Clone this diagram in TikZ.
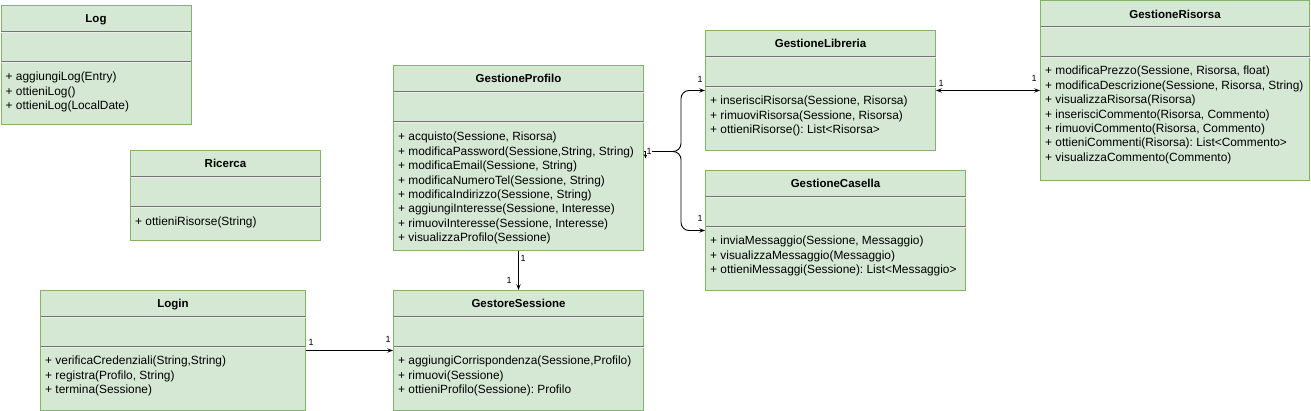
\documentclass[tikz,border=0pt]{standalone}
\usepackage{fontspec}
\setmainfont{Liberation Sans}
\usetikzlibrary{arrows.meta,positioning}
\definecolor{umlfill}{HTML}{D5E8D4}
\definecolor{umlline}{HTML}{82B366}
\frenchspacing

\begin{document}
\begin{tikzpicture}[x=1pt,y=-1pt,>={Stealth[length=6pt,width=4.5pt,inset=2.5pt]},
    box/.style={draw=umlline,fill=umlfill,line width=1pt,anchor=north west,inner sep=0pt},
    head/.style={font=\bfseries\fontsize{11.5}{13}\selectfont},
    ops/.style={font=\fontsize{11.9}{14.4}\selectfont,align=left,inner sep=0pt},
    mult/.style={font=\fontsize{9}{10}\selectfont,inner sep=0.5pt},
    assoc/.style={line width=0.9pt},
    sep/.style={draw=black!55,line width=0.9pt},
    sepgap/.style={draw=black!7,line width=1pt}]

    \useasboundingbox (0,0) rectangle (1311,411);

    % classes
    \node[box,minimum width=190pt,minimum height=119pt] (0) at (0.5,5) {};
    \node[box,minimum width=190pt,minimum height=90pt] (1) at (130,150) {};
    \node[box,minimum width=250pt,minimum height=185pt] (2) at (393,65) {};
    \node[box,minimum width=230pt,minimum height=120pt] (3) at (705,30) {};
    \node[box,minimum width=269pt,minimum height=180pt] (4) at (1040,0.5) {};
    \node[box,minimum width=260pt,minimum height=120pt] (5) at (705,170) {};
    \node[box,minimum width=265pt,minimum height=120pt] (6) at (40,290) {};
    \node[box,minimum width=250pt,minimum height=120pt] (7) at (393,290) {};

    \foreach \n in {0,...,7} {
        \draw[sep] ([xshift=0.5pt,yshift=-26pt]\n.north west) -- ([xshift=-0.5pt,yshift=-26pt]\n.north east);
        \draw[sepgap] ([xshift=0.5pt,yshift=-27.2pt]\n.north west) -- ([xshift=-0.5pt,yshift=-27.2pt]\n.north east);
        \draw[sep] ([xshift=0.5pt,yshift=-56pt]\n.north west) -- ([xshift=-0.5pt,yshift=-56pt]\n.north east);
        \draw[sepgap] ([xshift=0.5pt,yshift=-57.2pt]\n.north west) -- ([xshift=-0.5pt,yshift=-57.2pt]\n.north east);
    }

    \node[head,below=6pt of 0.north] {Log};
    \node[ops,below right=67pt and 5pt of 0.north west] {+ aggiungiLog(Entry)\\+ ottieniLog()\\+ ottieniLog(LocalDate)};

    \node[head,below=6pt of 1.north] {Ricerca};
    \node[ops,below right=67pt and 5pt of 1.north west] {+ ottieniRisorse(String)};

    \node[head,below=6pt of 2.north] {GestioneProfilo};
    \node[ops,below right=67pt and 5pt of 2.north west] {+ acquisto(Sessione, Risorsa)\\
        + modificaPassword(Sessione,String, String)\\
        + modificaEmail(Sessione, String)\\
        + modificaNumeroTel(Sessione, String)\\
        + modificaIndirizzo(Sessione, String)\\
        + aggiungiInteresse(Sessione, Interesse)\\
        + rimuoviInteresse(Sessione, Interesse)\\
        + visualizzaProfilo(Sessione)};

    \node[head,below=6pt of 3.north] {GestioneLibreria};
    \node[ops,below right=66pt and 5pt of 3.north west] {+ inserisciRisorsa(Sessione, Risorsa)\\
        + rimuoviRisorsa(Sessione, Risorsa)\\
        + ottieniRisorse(): List<Risorsa>};

    \node[head,below=6pt of 4.north] {GestioneRisorsa};
    \node[ops,below right=65.5pt and 5pt of 4.north west] {+ modificaPrezzo(Sessione, Risorsa, float)\\
        + modificaDescrizione(Sessione, Risorsa, String)\\
        + visualizzaRisorsa(Risorsa)\\
        + inserisciCommento(Risorsa, Commento)\\
        + rimuoviCommento(Risorsa, Commento)\\
        + ottieniCommenti(Risorsa): List<Commento>\\
        + visualizzaCommento(Commento)};

    \node[head,below=6pt of 5.north] {GestioneCasella};
    \node[ops,below right=66pt and 5pt of 5.north west] {+ inviaMessaggio(Sessione, Messaggio)\\
        + visualizzaMessaggio(Messaggio)\\
        + ottieniMessaggi(Sessione): List<Messaggio>};

    \node[head,below=6pt of 6.north] {Login};
    \node[ops,below right=66pt and 5pt of 6.north west] {+ verificaCredenziali(String,String)\\
        + registra(Profilo, String)\\
        + termina(Sessione)};

    \node[head,below=6pt of 7.north] {GestoreSessione};
    \node[ops,below right=66pt and 5pt of 7.north west] {+ aggiungiCorrispondenza(Sessione,Profilo)\\
        + rimuovi(Sessione)\\
        + ottieniProfilo(Sessione): Profilo};

    % associations
    \draw[assoc,->,rounded corners=8pt] ([yshift=6.5pt]2.east) -- ++(37,0) |- (3.west);
    \draw[assoc,->,rounded corners=8pt] ([yshift=6.5pt]2.east) -- ++(37,0) |- (5.west);
    \draw[assoc,-{Stealth[length=4.5pt,width=3.5pt]}] ([xshift=1.5pt,yshift=6pt]2.east) -- ([xshift=1.5pt,yshift=-0.5pt]2.east);
    \draw[assoc,<->] (3.east) -- (3.east -| 4.west);
    \draw[assoc,->] (2.south) -- (7.north);
    \draw[assoc,->] (6.east) -- (7.west);

    \node[mult,fill=white] (8) at (649,151) {1};
    \node[mult] (9) at (700,79) {1};
    \node[mult] (10) at (700,218) {1};
    \node[mult] (11) at (941,83) {1};
    \node[mult] (12) at (1034,78) {1};
    \node[mult] (13) at (523,258) {1};
    \node[mult] (14) at (509,280) {1};
    \node[mult] (15) at (311,342) {1};
    \node[mult] (16) at (388,339) {1};
\end{tikzpicture}
\end{document}
